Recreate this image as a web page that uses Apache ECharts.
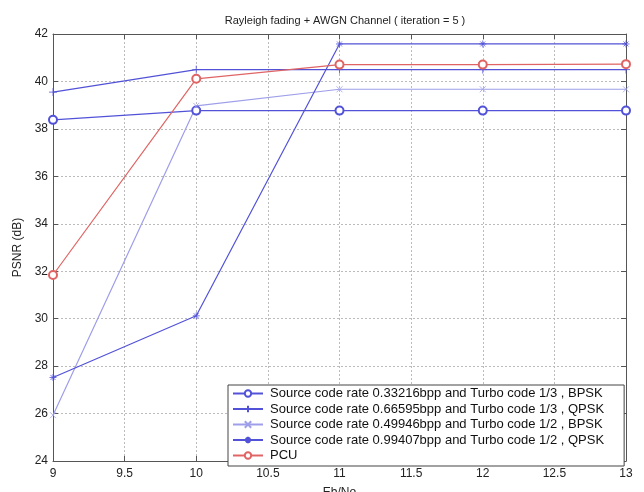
<!DOCTYPE html>
<html>
<head>
<meta charset="utf-8">
<script src="https://cdn.jsdelivr.net/npm/echarts@6/dist/echarts.min.js"></script>
<style>html,body{margin:0;padding:0;background:#fff}#c{width:644px;height:492px}</style>
</head>
<body>
<div id="c"></div>
<script>
const ebno = [9, 10, 11, 12, 13];
const xTicks = [9, 9.5, 10, 10.5, 11, 11.5, 12, 12.5, 13];
const yTicks = [24, 26, 28, 30, 32, 34, 36, 38, 40, 42];
const names = [
  'Source code rate 0.33216bpp and Turbo code 1/3 , BPSK',
  'Source code rate 0.66595bpp and Turbo code 1/3 , QPSK',
  'Source code rate 0.49946bpp and Turbo code 1/2 , BPSK',
  'Source code rate 0.99407bpp and Turbo code 1/2 , QPSK',
  'PCU'
];
const s1 = [38.38, 38.77, 38.77, 38.77, 38.77];
const s2 = [39.55, 40.5, 40.5, 40.5, 40.5];
const s3 = [25.93, 38.97, 39.67, 39.67, 39.67];
const s4 = [27.52, 30.12, 41.58, 41.58, 41.58];
const s5 = [31.84, 40.11, 40.71, 40.71, 40.73];

const BLUE = '#5252d8';
const LBLUE = '#9e9eea';
const RED = '#e06464';
const PLUS = 'path://M5,0L5,10M0,5L10,5';
const CROSS = 'path://M0,0L10,10M10,0L0,10';
const STAR = 'path://M5,0L5,10M0,5L10,5M1.5,1.5L8.5,8.5M8.5,1.5L1.5,8.5';

function mk(name, data, color, symbol, size) {
  return {
    name: name, type: 'line',
    data: data.map((v, i) => [ebno[i], v]),
    symbol: symbol, symbolSize: size, showAllSymbol: true,
    lineStyle: { color: color, width: 1.2 },
    itemStyle: { color: color, borderColor: color, borderWidth: 0.8 },
    emphasis: { disabled: true },
    animation: false
  };
}

const chart = echarts.init(document.getElementById('c'), null, { renderer: 'canvas' });
const axisLine = { show: true, lineStyle: { color: '#555', width: 1 } };
chart.setOption({
  animation: false,
  backgroundColor: '#fff',
  title: {
    text: 'Rayleigh fading + AWGN Channel ( iteration = 5 )',
    left: 340, top: 10, textAlign: 'center',
    textStyle: { fontFamily: 'Liberation Sans', fontSize: 11, fontWeight: 'normal', color: '#222' }
  },
  grid: { left: 53, right: 18, top: 34, bottom: 31, show: false, outerBoundsMode: 'none', containLabel: false },
  xAxis: [{
    type: 'value', min: 9, max: 13, interval: 0.5,
    name: 'Eb/No', nameLocation: 'middle', nameGap: 26,
    nameTextStyle: { fontFamily: 'Liberation Sans', fontSize: 12, color: '#222' },
    axisLine: axisLine,
    axisTick: { show: true, inside: true, length: 5, lineStyle: { color: '#555' } },
    axisLabel: { fontFamily: 'Liberation Sans', fontSize: 12, color: '#222', margin: 7,
      formatter: v => xTicks.indexOf(v) >= 0 ? String(v) : '' },
    splitLine: { show: true, lineStyle: { color: '#bbb', type: [2, 2], width: 1 } }
  }, {
    type: 'value', min: 9, max: 13, interval: 0.5, position: 'top',
    axisLine: axisLine,
    axisTick: { show: true, inside: true, length: 5, lineStyle: { color: '#555' } },
    axisLabel: { show: false }, splitLine: { show: false }
  }],
  yAxis: [{
    type: 'value', min: 24, max: 42, interval: 2,
    name: 'PSNR (dB)', nameLocation: 'middle', nameGap: 26, nameRotate: 90,
    nameTextStyle: { fontFamily: 'Liberation Sans', fontSize: 12, color: '#222' },
    axisLine: axisLine,
    axisTick: { show: true, inside: true, length: 5, lineStyle: { color: '#555' } },
    axisLabel: { fontFamily: 'Liberation Sans', fontSize: 12, color: '#222', margin: 5,
      formatter: v => yTicks.indexOf(v) >= 0 ? String(v) : '' },
    splitLine: { show: true, lineStyle: { color: '#bbb', type: [2, 2], width: 1 } }
  }, {
    type: 'value', min: 24, max: 42, interval: 2, position: 'right',
    axisLine: axisLine,
    axisTick: { show: true, inside: true, length: 5, lineStyle: { color: '#555' } },
    axisLabel: { show: false }, splitLine: { show: false }
  }],
  legend: {
    orient: 'vertical', left: 228, top: 385,
    backgroundColor: '#fff', borderColor: '#444', borderWidth: 1,
    padding: [2, 20, 4, 4],
    itemWidth: 30, itemHeight: 8, itemGap: 2.5,
    textStyle: { fontFamily: 'Liberation Sans', fontSize: 13, lineHeight: 12, color: '#111', padding: [0, 0, 0, 2] },
    data: names.map(n => ({ name: n }))
  },
  series: [
    mk(names[0], s1, BLUE, 'emptyCircle', 8),
    mk(names[1], s2, BLUE, PLUS, 8),
    mk(names[2], s3, LBLUE, CROSS, 6),
    mk(names[3], s4, BLUE, STAR, 7),
    mk(names[4], s5, RED, 'emptyCircle', 8)
  ]
});
</script>
</body>
</html>
